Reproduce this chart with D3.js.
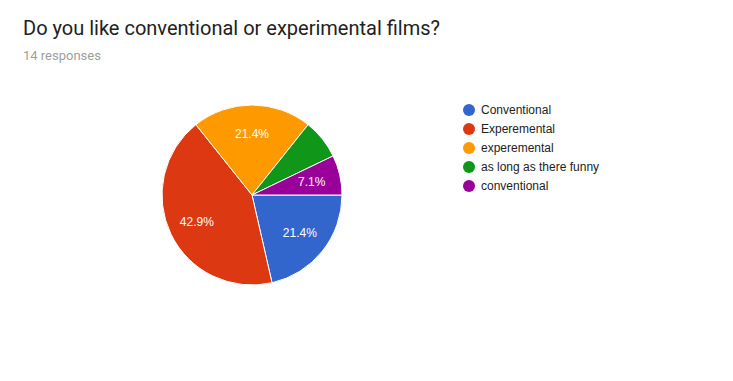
<!DOCTYPE html>
<html><head><meta charset="utf-8">
<script src="https://cdn.jsdelivr.net/npm/d3@7"></script>
<style>body{margin:0;background:#fff;}svg{display:block;}</style>
</head><body>
<svg id="c" width="733" height="381"></svg>
<script>
const categories = ["Conventional", "Experemental", "experemental", "as long as there funny", "conventional"];
const counts = [3, 6, 3, 1, 1];
const showLabel = [true, true, true, false, true];
const colors = ["#3366cc", "#dc3912", "#ff9900", "#109618", "#990099"];
const title = "Do you like conventional or experimental films?";
const subtitle = "14 responses";

const svg = d3.select("#c");
svg.append("text").attr("x", 23).attr("y", 35).attr("font-family", "Roboto").attr("font-size", 20).attr("fill", "#212121").text(title);
svg.append("text").attr("x", 23).attr("y", 60).attr("font-family", "Roboto").attr("font-size", 13).attr("fill", "#9e9e9e").text(subtitle);

const total = d3.sum(counts);
const cx = 252, cy = 195, r = 90;
const pie = d3.pie().sort(null).startAngle(Math.PI / 2).endAngle(Math.PI / 2 + 2 * Math.PI);
const arcs = pie(counts);
const arc = d3.arc().innerRadius(0).outerRadius(r);
const labelArc = d3.arc().innerRadius(r * 0.68).outerRadius(r * 0.68);
const g = svg.append("g").attr("transform", `translate(${cx},${cy})`);
g.selectAll("path").data(arcs).join("path")
  .attr("d", arc).attr("fill", (d, i) => colors[i]).attr("stroke", "#fff").attr("stroke-width", 1);
g.selectAll("text").data(arcs.filter(d => showLabel[d.index])).join("text")
  .attr("transform", d => { const c = labelArc.centroid(d); return `translate(${c[0]},${c[1]})`; })
  .attr("text-anchor", "middle").attr("dy", "0.35em")
  .attr("font-family", "Arial, 'Liberation Sans'").attr("font-size", 12).attr("fill", "#fff")
  .text(d => (d.data / total * 100).toFixed(1) + "%");

const leg = svg.append("g");
const items = leg.selectAll("g").data(categories).join("g")
  .attr("transform", (d, i) => `translate(469,${110 + i * 19})`);
items.append("circle").attr("r", 6).attr("fill", (d, i) => colors[i]);
items.append("text").attr("x", 12).attr("dy", "0.35em")
  .attr("font-family", "Arial, 'Liberation Sans'").attr("font-size", 12).attr("fill", "#222").text(d => d);
</script>
</body></html>
